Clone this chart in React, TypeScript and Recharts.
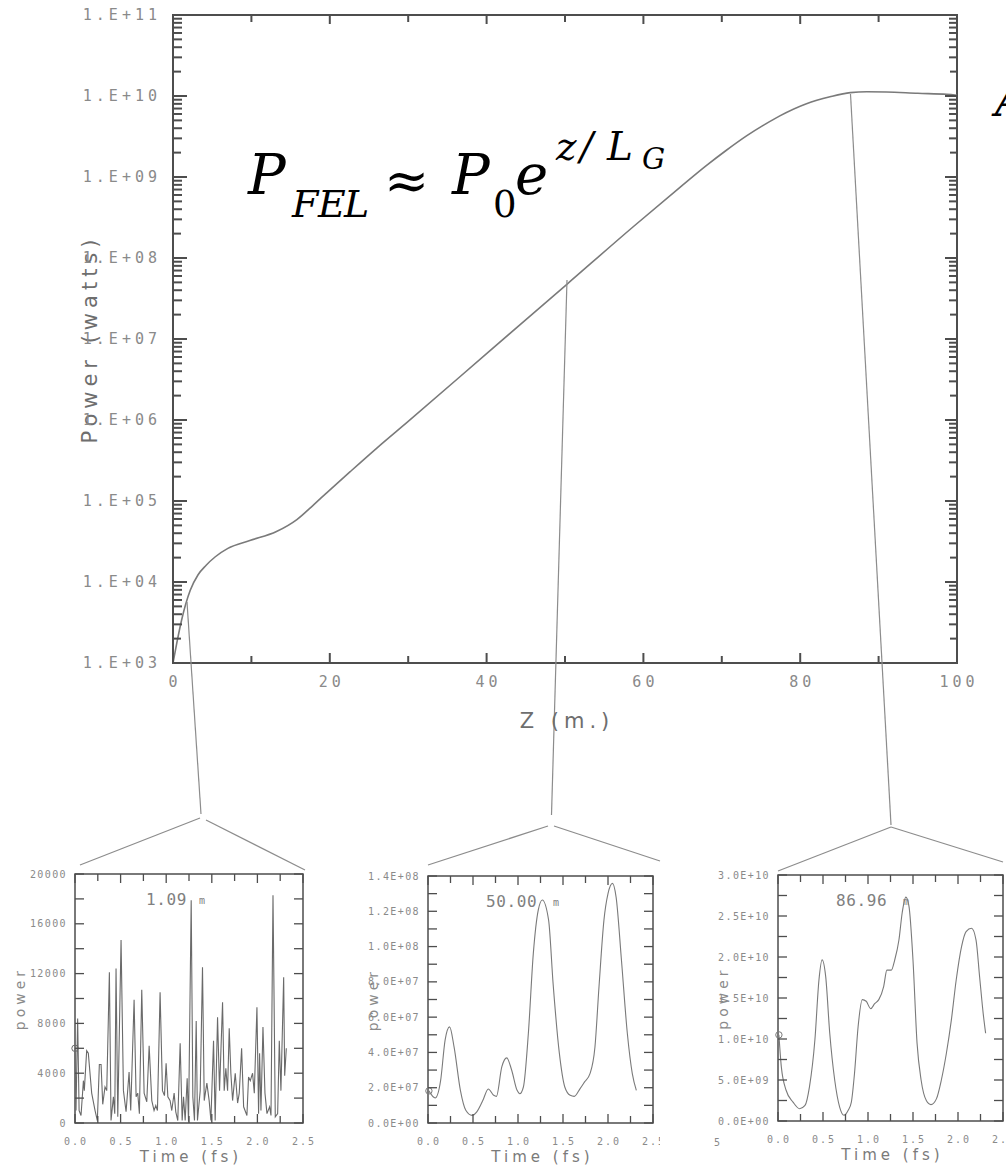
import React from 'react';
import { LineChart, Line, XAxis, YAxis, ReferenceLine, ReferenceArea } from 'recharts';

// ---------------- data ----------------
// main gain curve: z (m) vs power (W)
const mainZ = [0, 0.5, 1.1, 2.2, 3.2, 4.2, 5.4, 7, 9.8, 13.2, 15.8, 18, 19.6, 22.6, 26, 30, 40, 50.2, 58.7, 64.7, 68.1, 70.5, 73.2, 75.5, 77.4, 80.8, 83.8, 86.4, 88.5, 91, 95, 98.7, 100];
const mainPower = [1e3, 1.8e3, 3.4e3, 7.9e3, 1.23e4, 1.6e4, 2.05e4, 2.6e4, 3.25e4, 4.2e4, 5.9e4, 9.1e4, 1.26e5, 2.3e5, 4.5e5, 9.6e5, 6.6e6, 4.7e7, 2.43e8, 7.5e8, 1.4e9, 2.11e9, 3.24e9, 4.47e9, 5.69e9, 8.04e9, 9.77e9, 1.1e10, 1.127e10, 1.12e10, 1.08e10, 1.05e10, 1.02e10];
const mainZTicks = [0, 10, 20, 30, 40, 50, 60, 70, 80, 90, 100];
const mainZLabels = [0, 20, 40, 60, 80, 100];
const mainDecades = [3, 4, 5, 6, 7, 8, 9, 10, 11];

// inset 1 : z = 1.09 m
const inset1Time = [0, 0.011, 0.029, 0.045, 0.066, 0.092, 0.102, 0.128, 0.146, 0.183, 0.22, 0.245, 0.267, 0.286, 0.304, 0.329, 0.348, 0.377, 0.395, 0.421, 0.436, 0.45, 0.469, 0.505, 0.531, 0.56, 0.593, 0.611, 0.648, 0.67, 0.688, 0.706, 0.732, 0.758, 0.787, 0.813, 0.842, 0.867, 0.886, 0.904, 0.933, 0.959, 0.981, 0.999, 1.018, 1.043, 1.061, 1.087, 1.105, 1.127, 1.153, 1.175, 1.19, 1.208, 1.23, 1.245, 1.274, 1.292, 1.31, 1.329, 1.343, 1.373, 1.398, 1.417, 1.446, 1.471, 1.49, 1.519, 1.537, 1.563, 1.585, 1.618, 1.636, 1.654, 1.673, 1.691, 1.709, 1.728, 1.757, 1.783, 1.801, 1.827, 1.849, 1.885, 1.903, 1.922, 1.947, 1.966, 1.995, 2.013, 2.024, 2.039, 2.061, 2.083, 2.105, 2.134, 2.149, 2.171, 2.196, 2.222, 2.24, 2.258, 2.288, 2.299, 2.317];
const inset1Power = [6000, 1000, 8400, 1000, 600, 3400, 2600, 5800, 5600, 2400, 1000, 200, 4700, 4700, 1500, 2900, 2600, 12100, 200, 2100, 750, 12400, 500, 14700, 2600, 900, 4100, 1000, 9900, 2100, 2400, 750, 10700, 2400, 1700, 6200, 1800, 1000, 1400, 1000, 10500, 2600, 2200, 4800, 2100, 1800, 1000, 2400, 900, 200, 6400, 200, 2100, 200, 3600, 100, 17900, 2100, 200, 8200, 200, 2600, 12500, 1800, 3200, 1800, 200, 6600, 200, 8500, 2600, 9700, 2600, 4400, 2600, 7600, 4000, 1800, 4000, 1600, 2400, 6000, 1300, 600, 3700, 3400, 4000, 2400, 9300, 750, 5600, 1000, 7700, 2400, 750, 1300, 600, 18300, 500, 750, 6600, 2600, 11700, 3800, 6000];
const inset1YTicks = [0, 2000, 4000, 6000, 8000, 10000, 12000, 14000, 16000, 18000, 20000];
const inset1YLabels = [0, 4000, 8000, 12000, 16000, 20000];

// inset 2 : z = 50.00 m
const inset2Time = [0.01, 0.08, 0.14, 0.19, 0.24, 0.29, 0.36, 0.42, 0.49, 0.54, 0.61, 0.67, 0.73, 0.76, 0.82, 0.875, 0.93, 0.99, 1.02, 1.06, 1.115, 1.17, 1.225, 1.27, 1.34, 1.39, 1.46, 1.52, 1.58, 1.625, 1.69, 1.74, 1.8, 1.855, 1.9, 1.955, 2.0, 2.05, 2.09, 2.15, 2.215, 2.27, 2.315];
const inset2Power = [1.82e7, 1.42e7, 2.4e7, 4.7e7, 5.45e7, 4.3e7, 1.85e7, 7.2e6, 4.3e6, 6.2e6, 1.29e7, 1.93e7, 1.57e7, 1.51e7, 3.18e7, 3.69e7, 2.99e7, 1.85e7, 1.66e7, 2.04e7, 5.07e7, 9.6e7, 1.207e8, 1.264e8, 1.15e8, 7.9e7, 3.93e7, 2.04e7, 1.57e7, 1.51e7, 1.95e7, 2.33e7, 2.8e7, 4.31e7, 7.72e7, 1.15e8, 1.3e8, 1.358e8, 1.28e8, 9.2e7, 5.07e7, 2.8e7, 1.85e7];
const inset2YTicks = [0, 1e7, 2e7, 3e7, 4e7, 5e7, 6e7, 7e7, 8e7, 9e7, 1e8, 1.1e8, 1.2e8, 1.3e8, 1.4e8];
const inset2YLabels = [0, 2e7, 4e7, 6e7, 8e7, 1e8, 1.2e8, 1.4e8];

// inset 3 : z = 86.96 m
const inset3Time = [0.01, 0.037, 0.09, 0.167, 0.24, 0.3, 0.35, 0.41, 0.455, 0.49, 0.53, 0.575, 0.63, 0.685, 0.733, 0.78, 0.815, 0.85, 0.89, 0.937, 0.98, 1.03, 1.074, 1.12, 1.174, 1.21, 1.26, 1.296, 1.344, 1.38, 1.42, 1.455, 1.5, 1.545, 1.59, 1.648, 1.7, 1.76, 1.815, 1.87, 1.926, 1.98, 2.04, 2.09, 2.15, 2.2, 2.24, 2.28, 2.307];
const inset3Power = [1.05e10, 6.6e9, 3.75e9, 2.3e9, 1.5e9, 1.9e9, 4.2e9, 9.9e9, 1.72e10, 1.965e10, 1.76e10, 1.07e10, 5.0e9, 1.7e9, 7.0e8, 1.3e9, 2.3e9, 5.8e9, 1.15e10, 1.48e10, 1.46e10, 1.37e10, 1.43e10, 1.48e10, 1.64e10, 1.84e10, 1.84e10, 1.96e10, 2.21e10, 2.54e10, 2.73e10, 2.62e10, 1.96e10, 9.5e9, 5.0e9, 2.5e9, 2.0e9, 2.7e9, 5.0e9, 8.2e9, 1.23e10, 1.72e10, 2.13e10, 2.31e10, 2.35e10, 2.21e10, 1.76e10, 1.31e10, 1.07e10];
const inset3YTicks = [0, 2.5e9, 5e9, 7.5e9, 1e10, 1.25e10, 1.5e10, 1.75e10, 2e10, 2.25e10, 2.5e10, 2.75e10, 3e10];
const inset3YLabels = [0, 5e9, 1e10, 1.5e10, 2e10, 2.5e10, 3e10];

const timeTicks = [0, 0.25, 0.5, 0.75, 1, 1.25, 1.5, 1.75, 2, 2.25, 2.5];
const timeLabels = [0, 0.5, 1, 1.5, 2, 2.5];
const insetTitles = ['1.09', '50.00', '86.96'];

// ---------------- layout & style ----------------
const PAGE_W = 1006;
const PAGE_H = 1175;
const MAIN = { left: 173, top: 15, right: 957, bottom: 663 };
const MAIN_XAXIS_H = 60;
const AXIS_COLOR = '#4d4d4d';
const LABEL_COLOR = '#8a8a8a';
const CURVE_COLOR = '#7a7a7a';
const MONO = '"DejaVu Sans Mono", monospace';
const SANS = '"DejaVu Sans", sans-serif';

const INSET_LAYOUT = [
  { box: { left: 0, top: 870, width: 320, height: 305 }, plot: { left: 75, top: 874, right: 303, bottom: 1123 }, title: { x: 146, y: 905, mx: 199 } },
  { box: { left: 340, top: 866, width: 320, height: 309 }, plot: { left: 428, top: 876, right: 653, bottom: 1123 }, title: { x: 486, y: 907, mx: 553 } },
  { box: { left: 690, top: 866, width: 316, height: 309 }, plot: { left: 778, top: 875, right: 1003, bottom: 1121 }, title: { x: 836, y: 906, mx: 903 } },
];
const INSET_XAXIS_H = 50;

// connector annotation geometry in page pixels (curve point -> inset apex -> inset corners)
const CONNECTORS: [number, number][][] = [
  [[187, 602], [201, 814]],
  [[200, 818], [80, 865]],
  [[206, 820], [305, 870]],
  [[567, 280], [551.5, 815]],
  [[548, 826], [428, 865]],
  [[554, 826], [660, 861]],
  [[850.5, 94], [891, 825]],
  [[891, 827], [778, 871]],
  [[891, 827], [1003, 862]],
];

const pageToMain = (px: number, py: number) => ({
  x: ((px - MAIN.left) / (MAIN.right - MAIN.left)) * 100,
  y: Math.pow(10, 3 + ((MAIN.bottom - py) / (MAIN.bottom - MAIN.top)) * 8),
});

const pad2 = (e: number) => String(e).padStart(2, '0');
const sciFmt = (v: number) => {
  if (v === 0) return '0.0E+00';
  const e = Math.floor(Math.log10(v) + 1e-9);
  return `${(v / Math.pow(10, e)).toFixed(1)}E+${pad2(e)}`;
};

const mainData = mainZ.map((z, i) => ({ z, p: mainPower[i] }));
const mainYTicks: number[] = [];
mainDecades.forEach((e) => {
  if (e === 11) mainYTicks.push(Math.pow(10, e));
  else for (let m = 1; m <= 9; m++) mainYTicks.push(m * Math.pow(10, e));
});

// ---------------- main chart ticks ----------------
const MainXTick = (props: any) => {
  const { x, y, payload } = props;
  const v = payload.value;
  const major = mainZLabels.includes(v);
  return (
    <g>
      <line x1={x} y1={y} x2={x} y2={y - (major ? 10 : 7)} stroke={AXIS_COLOR} strokeWidth={2} />
      <line x1={x} y1={MAIN.top} x2={x} y2={MAIN.top + (major ? 9 : 7)} stroke={AXIS_COLOR} strokeWidth={2} />
      {major && (
        <text x={x + 2} y={y + 24} textAnchor="middle" fontFamily={MONO} fontSize={15} letterSpacing={4} fill={LABEL_COLOR}>
          {String(v)}
        </text>
      )}
    </g>
  );
};

const MainYTick = (props: any) => {
  const { x, y, payload } = props;
  const v = payload.value;
  const e = Math.floor(Math.log10(v) + 1e-9);
  const m = Math.round(v / Math.pow(10, e));
  const major = m === 1;
  const lenL = major ? 14 : m === 2 ? 8 : 9;
  const lenR = major ? 12 : m === 2 ? 7 : 8;
  return (
    <g>
      <line x1={x} y1={y} x2={x + lenL} y2={y} stroke={AXIS_COLOR} strokeWidth={2} />
      <line x1={MAIN.right} y1={y} x2={MAIN.right - lenR} y2={y} stroke={AXIS_COLOR} strokeWidth={2} />
      {major && (
        <text x={x - 12} y={y + 5} textAnchor="end" fontFamily={MONO} fontSize={15} letterSpacing={4} fill={LABEL_COLOR}>
          {`1.E+${pad2(e)}`}
        </text>
      )}
    </g>
  );
};

function MainChart() {
  return (
    <LineChart
      width={PAGE_W}
      height={PAGE_H}
      data={mainData}
      margin={{ top: MAIN.top, right: PAGE_W - MAIN.right, left: 0, bottom: PAGE_H - MAIN.bottom - MAIN_XAXIS_H }}
    >
      <XAxis
        dataKey="z"
        type="number"
        domain={[0, 100]}
        ticks={mainZTicks}
        interval={0}
        tickSize={0}
        tickMargin={0}
        axisLine={false}
        tickLine={false}
        height={MAIN_XAXIS_H}
        allowDataOverflow
        tick={(p: any) => <MainXTick {...p} />}
        label={{
          content: () => (
            <text x={(MAIN.left + MAIN.right) / 2 + 2} y={MAIN.bottom + 65} textAnchor="middle" fontFamily={SANS} fontSize={21} letterSpacing={5} fill="#6e6e6e">
              Z (m.)
            </text>
          ),
        }}
      />
      <YAxis
        type="number"
        scale="log"
        domain={[1e3, 1e11]}
        ticks={mainYTicks}
        interval={0}
        tickSize={0}
        tickMargin={0}
        axisLine={false}
        tickLine={false}
        width={MAIN.left}
        allowDataOverflow
        tick={(p: any) => <MainYTick {...p} />}
        label={{
          content: () => (
            <text
              x={91}
              y={(MAIN.top + MAIN.bottom) / 2 + 6}
              textAnchor="middle"
              transform={`rotate(-90 91 ${(MAIN.top + MAIN.bottom) / 2})`}
              fontFamily={SANS}
              fontSize={21}
              letterSpacing={5}
              fill="#6e6e6e"
            >
              Power (watts)
            </text>
          ),
        }}
      />
      <ReferenceArea x1={0} x2={100} y1={1e3} y2={1e11} fill="none" fillOpacity={0} stroke={AXIS_COLOR} strokeWidth={2} ifOverflow="visible" />
      <Line dataKey="p" type="monotone" stroke={CURVE_COLOR} strokeWidth={1.6} dot={false} isAnimationActive={false} />
      {CONNECTORS.map((seg, i) => (
        <ReferenceLine
          key={`c${i}`}
          segment={[pageToMain(seg[0][0], seg[0][1]), pageToMain(seg[1][0], seg[1][1])]}
          stroke="#8c8c8c"
          strokeWidth={1.2}
          ifOverflow="visible"
        />
      ))}
    </LineChart>
  );
}

// ---------------- inset charts ----------------
type InsetCfg = {
  time: number[];
  power: number[];
  yTicks: number[];
  yLabels: number[];
  yFmt: (v: number) => string;
  lineType: 'linear' | 'monotone';
  stroke: string;
};

const insetCfgs: InsetCfg[] = [
  { time: inset1Time, power: inset1Power, yTicks: inset1YTicks, yLabels: inset1YLabels, yFmt: (v) => String(v), lineType: 'linear', stroke: '#6a6a6a' },
  { time: inset2Time, power: inset2Power, yTicks: inset2YTicks, yLabels: inset2YLabels, yFmt: sciFmt, lineType: 'monotone', stroke: '#7a7a7a' },
  { time: inset3Time, power: inset3Power, yTicks: inset3YTicks, yLabels: inset3YLabels, yFmt: sciFmt, lineType: 'monotone', stroke: '#7a7a7a' },
];

function Inset({ cfg, idx }: { cfg: InsetCfg; idx: number }) {
  const L = INSET_LAYOUT[idx];
  const localTop = L.plot.top - L.box.top;
  const localRight = L.plot.right - L.box.left;
  const localLeft = L.plot.left - L.box.left;
  const localBottom = L.plot.bottom - L.box.top;
  const data = cfg.time.map((t, i) => ({ t, p: cfg.power[i] }));
  const yMax = cfg.yTicks[cfg.yTicks.length - 1];

  const XTick = (props: any) => {
    const { x, y, payload } = props;
    const v = payload.value;
    const major = timeLabels.includes(v);
    return (
      <g>
        <line x1={x} y1={y} x2={x} y2={y - (major ? 9 : 7)} stroke={AXIS_COLOR} strokeWidth={1.3} />
        <line x1={x} y1={localTop} x2={x} y2={localTop + (major ? 9 : 7)} stroke={AXIS_COLOR} strokeWidth={1.3} />
        {major && (
          <text x={x + 1} y={y + 22} textAnchor="middle" fontFamily={MONO} fontSize={10} letterSpacing={2} fill={LABEL_COLOR}>
            {v.toFixed(1)}
          </text>
        )}
      </g>
    );
  };

  const YTick = (props: any) => {
    const { x, y, payload } = props;
    const v = payload.value;
    const major = cfg.yLabels.includes(v);
    return (
      <g>
        <line x1={x} y1={y} x2={x + 9} y2={y} stroke={AXIS_COLOR} strokeWidth={1.3} />
        <line x1={localRight} y1={y} x2={localRight - 9} y2={y} stroke={AXIS_COLOR} strokeWidth={1.3} />
        {major && (
          <text x={x - 8} y={y + 3.5} textAnchor="end" fontFamily={MONO} fontSize={10} letterSpacing={1.4} fill={LABEL_COLOR}>
            {cfg.yFmt(v)}
          </text>
        )}
      </g>
    );
  };

  const firstDot = (p: any) =>
    p.index === 0 ? (
      <circle key="d0" cx={p.cx} cy={p.cy} r={3.2} fill="none" stroke={cfg.stroke} strokeWidth={1} />
    ) : (
      <g key={`d${p.index}`} />
    );

  return (
    <LineChart
      width={L.box.width}
      height={L.box.height}
      data={data}
      margin={{
        top: localTop,
        right: L.box.width - localRight,
        left: 0,
        bottom: L.box.height - localBottom - INSET_XAXIS_H,
      }}
    >
      <XAxis
        dataKey="t"
        type="number"
        domain={[0, 2.5]}
        ticks={timeTicks}
        interval={0}
        tickSize={0}
        tickMargin={0}
        axisLine={false}
        tickLine={false}
        height={INSET_XAXIS_H}
        tick={(p: any) => <XTick {...p} />}
        label={{
          content: () => (
            <text x={(localLeft + localRight) / 2 + 2} y={localBottom + 39} textAnchor="middle" fontFamily={SANS} fontSize={15} letterSpacing={4} fill="#7a7a7a">
              Time (fs)
            </text>
          ),
        }}
      />
      <YAxis
        type="number"
        domain={[0, yMax]}
        ticks={cfg.yTicks}
        interval={0}
        tickSize={0}
        tickMargin={0}
        axisLine={false}
        tickLine={false}
        width={localLeft}
        tick={(p: any) => <YTick {...p} />}
        label={{
          content: () => {
            const cx = localLeft - 55;
            const cy = (localTop + localBottom) / 2;
            return (
              <text x={cx} y={cy + 5} textAnchor="middle" transform={`rotate(-90 ${cx} ${cy})`} fontFamily={SANS} fontSize={14} letterSpacing={4} fill="#8a8a8a">
                power
              </text>
            );
          },
        }}
      />
      <ReferenceArea x1={0} x2={2.5} y1={0} y2={yMax} fill="none" fillOpacity={0} stroke={AXIS_COLOR} strokeWidth={1.5} ifOverflow="visible" />
      <Line dataKey="p" type={cfg.lineType} stroke={cfg.stroke} strokeWidth={1.1} dot={firstDot} isAnimationActive={false} />
    </LineChart>
  );
}

// ---------------- app ----------------
export default function App() {
  return (
    <div style={{ position: 'absolute', left: 0, top: 0, width: PAGE_W, height: PAGE_H, overflow: 'hidden', background: '#fff' }}>
      <div style={{ position: 'absolute', left: 0, top: 0 }}>
        <MainChart />
      </div>
      {insetCfgs.map((cfg, i) => {
        const L = INSET_LAYOUT[i];
        return (
          <div key={i} style={{ position: 'absolute', left: L.box.left, top: L.box.top, width: L.box.width, height: L.box.height, overflow: 'hidden' }}>
            <Inset cfg={cfg} idx={i} />
          </div>
        );
      })}
      <svg width={PAGE_W} height={PAGE_H} style={{ position: 'absolute', left: 0, top: 0, pointerEvents: 'none' }}>
        {/* formula annotation */}
        <g fontFamily='"DejaVu Serif", serif' fill="#000">
          <text x={248} y={194} fontSize={56} fontStyle="italic">P</text>
          <text x="292 318 344" y={217} fontSize={38} fontStyle="italic">FEL</text>
          <text x={384} y={199} fontSize={54}>≈</text>
          <text x={452} y={194} fontSize={56} fontStyle="italic">P</text>
          <text x={493} y={217} fontSize={37}>0</text>
          <text x={515} y={194} fontSize={56} fontStyle="italic">e</text>
          <text x="556 580 607" y={160} fontSize={39} fontStyle="italic">z/L</text>
          <text x={642} y={169} fontSize={29} fontStyle="italic">G</text>
          <text x={995} y={116} fontSize={46} fontStyle="italic">A</text>
        </g>
        {/* inset titles */}
        {INSET_LAYOUT.map((L, i) => (
          <g key={`t${i}`} fill="#808080" fontFamily={MONO}>
            <text x={L.title.x} y={L.title.y} fontSize={16} letterSpacing={0.6}>
              {insetTitles[i]}
            </text>
            <text x={L.title.mx} y={L.title.y - 1} fontSize={10}>
              m
            </text>
          </g>
        ))}
        <text x={714} y={1146} fontFamily={MONO} fontSize={10} fill={LABEL_COLOR}>
          5
        </text>
      </svg>
    </div>
  );
}
